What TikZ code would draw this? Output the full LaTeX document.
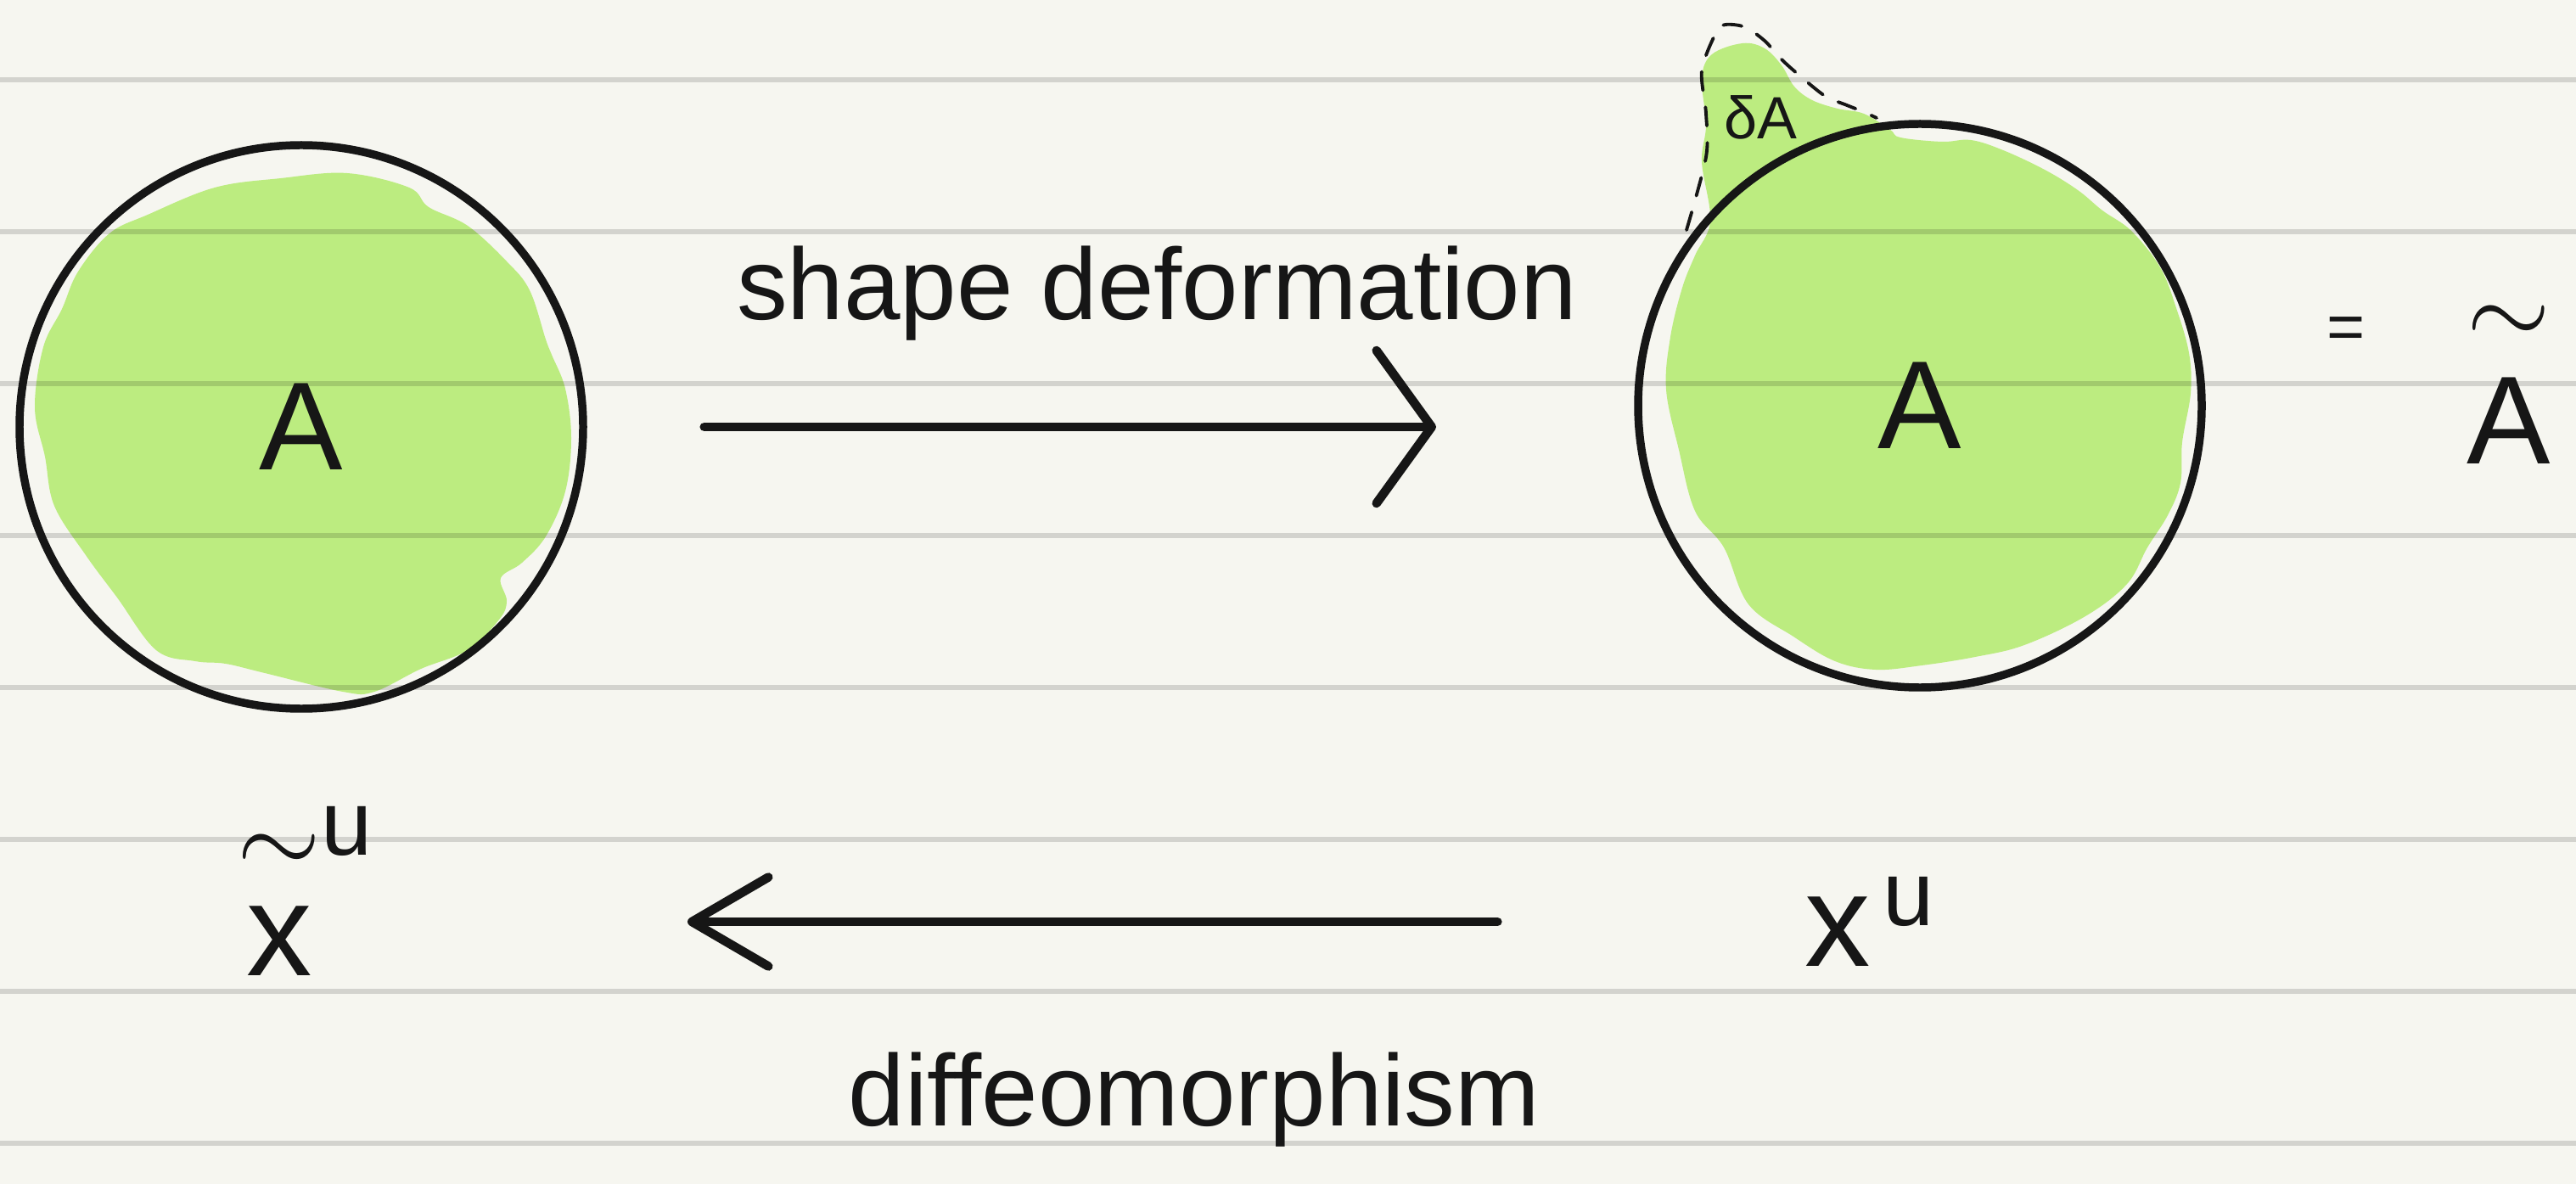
\documentclass[tikz,border=0pt]{standalone}
\usepackage{fontspec}
\usepackage{amsmath}
\setmainfont{Liberation Sans}
\usetikzlibrary{arrows.meta, positioning}
\definecolor{paper}{RGB}{246,246,240}
\definecolor{ink}{RGB}{22,22,22}
\definecolor{patchgreen}{RGB}{188,236,128}
\newcommand{\wavy}[1]{\overset{\raisebox{6pt}{\scalebox{1.45}{$\sim$}}}{\text{#1}}}

\begin{document}
\begin{tikzpicture}[
    region/.style={circle, draw=ink, line width=2.7pt, minimum size=6.64cm, inner sep=0pt,
                   text=ink, font=\fontsize{42}{48}\selectfont},
    patch/.style={fill=patchgreen, draw=none},
    rule/.style={draw=black, opacity=0.14, line width=1.5pt},
    boundary/.style={draw=ink, line width=1.1pt, dash pattern=on 0.22cm off 0.2cm, line cap=round},
    map/.style={draw=ink, line width=3pt, line cap=round, line join=round},
    note/.style={text=ink, inner sep=0pt, font=\fontsize{34}{40}\selectfont},
    coord/.style={text=ink, inner sep=0pt, font=\fontsize{44}{50}\selectfont}
]
    % Paper
    \useasboundingbox (0,0) rectangle (30.35,-13.95);
    \fill[paper] (0,0) rectangle (30.35,-13.95);

    % Region A before the deformation
    \fill[patch] plot[smooth cycle, tension=0.6] coordinates {
        (3.31,-2.10) (4.09,-2.04) (4.82,-2.21) (5.05,-2.44) (5.51,-2.66) (5.97,-3.08)
        (6.24,-3.42) (6.43,-4.00) (6.50,-4.18) (6.66,-4.58) (6.73,-5.16) (6.66,-5.79)
        (6.43,-6.32) (6.15,-6.63) (5.90,-6.81) (5.97,-7.08) (5.88,-7.30) (5.51,-7.66)
        (4.96,-7.88) (4.41,-8.15) (4.04,-8.15) (3.12,-7.93) (2.66,-7.82) (2.30,-7.79)
        (1.84,-7.66) (1.38,-7.04) (1.01,-6.54) (0.64,-5.96) (0.53,-5.38) (0.41,-4.80)
        (0.51,-4.09) (0.73,-3.64) (0.92,-3.20) (1.29,-2.75) (1.74,-2.53) (2.53,-2.21)};

    % Region A after the deformation, with the bump delta A
    \fill[patch] plot[smooth cycle, tension=0.6] coordinates {
        (22.39,-1.62) (22.88,-1.67) (23.22,-1.65) (23.60,-1.77) (24.09,-2.00) (24.48,-2.24)
        (24.77,-2.48) (25.11,-2.72) (25.45,-3.15) (25.64,-3.63) (25.79,-4.16) (25.81,-4.63)
        (25.71,-5.21) (25.69,-5.69) (25.54,-6.07) (25.30,-6.45) (25.06,-6.88) (24.57,-7.26)
        (23.85,-7.60) (23.27,-7.74) (22.64,-7.84) (22.10,-7.89) (21.62,-7.79) (21.13,-7.50)
        (20.60,-7.12) (20.31,-6.45) (19.97,-6.02) (19.78,-5.30) (19.63,-4.59) (19.68,-3.97)
        (19.82,-3.39) (19.97,-3.01) (20.15,-2.60) (20.05,-1.91) (20.10,-1.47) (20.05,-0.92)
        (20.17,-0.64) (20.53,-0.51) (20.79,-0.57) (20.99,-0.77) (21.14,-1.02) (21.35,-1.18)
        (21.65,-1.28) (21.96,-1.34) (22.27,-1.53)};

    % Ruled lines
    \foreach \k in {0,...,7}
        \draw[rule] (0,{-0.94-1.79*\k}) -- (30.35,{-0.94-1.79*\k});

    % Outline of delta A
    \draw[boundary] plot[smooth] coordinates {
        (19.87,-2.71) (20.10,-1.85) (20.10,-1.34) (20.05,-0.83) (20.22,-0.38) (20.33,-0.29)
        (20.56,-0.32) (20.79,-0.48) (20.99,-0.70) (21.19,-0.88) (21.50,-1.13) (21.76,-1.24)
        (21.96,-1.32) (22.11,-1.39)};

    % Regions
    \node[region] (before) at (3.55,-5.03) {A};
    \node[region] (after) at (22.62,-4.78) {A};

    % Labels
    \node[note, anchor=base] (deform) at (13.63,-3.77) {shape deformation};
    \node[note, anchor=base] (diffeo) at (14.07,-13.26) {diffeomorphism};
    \node[text=ink, inner sep=0pt, anchor=base, font=\fontsize{20}{24}\selectfont] (variation) at (20.74,-1.64) {δA};
    \node[text=ink, inner sep=0pt, font=\fontsize{22}{26}\selectfont] (equals) at (27.64,-3.93) {=};
    \node[text=ink, inner sep=0pt, anchor=base, font=\fontsize{42}{48}\selectfont] (reshaped) at (29.56,-5.47) {$\wavy{A}$};
    \node[coord] (xnew) at (3.60,-10.50) {$\wavy{x}^{\text{u}}$};
    \node[coord] (xold) at (22.03,-10.86) {$\text{x}^{\,\text{u}}$};

    % Maps
    \draw[map, -{Straight Barb[round, length=6.5mm, width=18mm]}, shorten <=1.38cm, shorten >=5.70cm]
        (before) -- (before -| after);
    \draw[map, -{Straight Barb[round, length=9mm, width=10.5mm]}, shorten <=3.61cm, shorten >=4.5cm]
        (xold) -- (xold -| xnew);
\end{tikzpicture}
\end{document}
